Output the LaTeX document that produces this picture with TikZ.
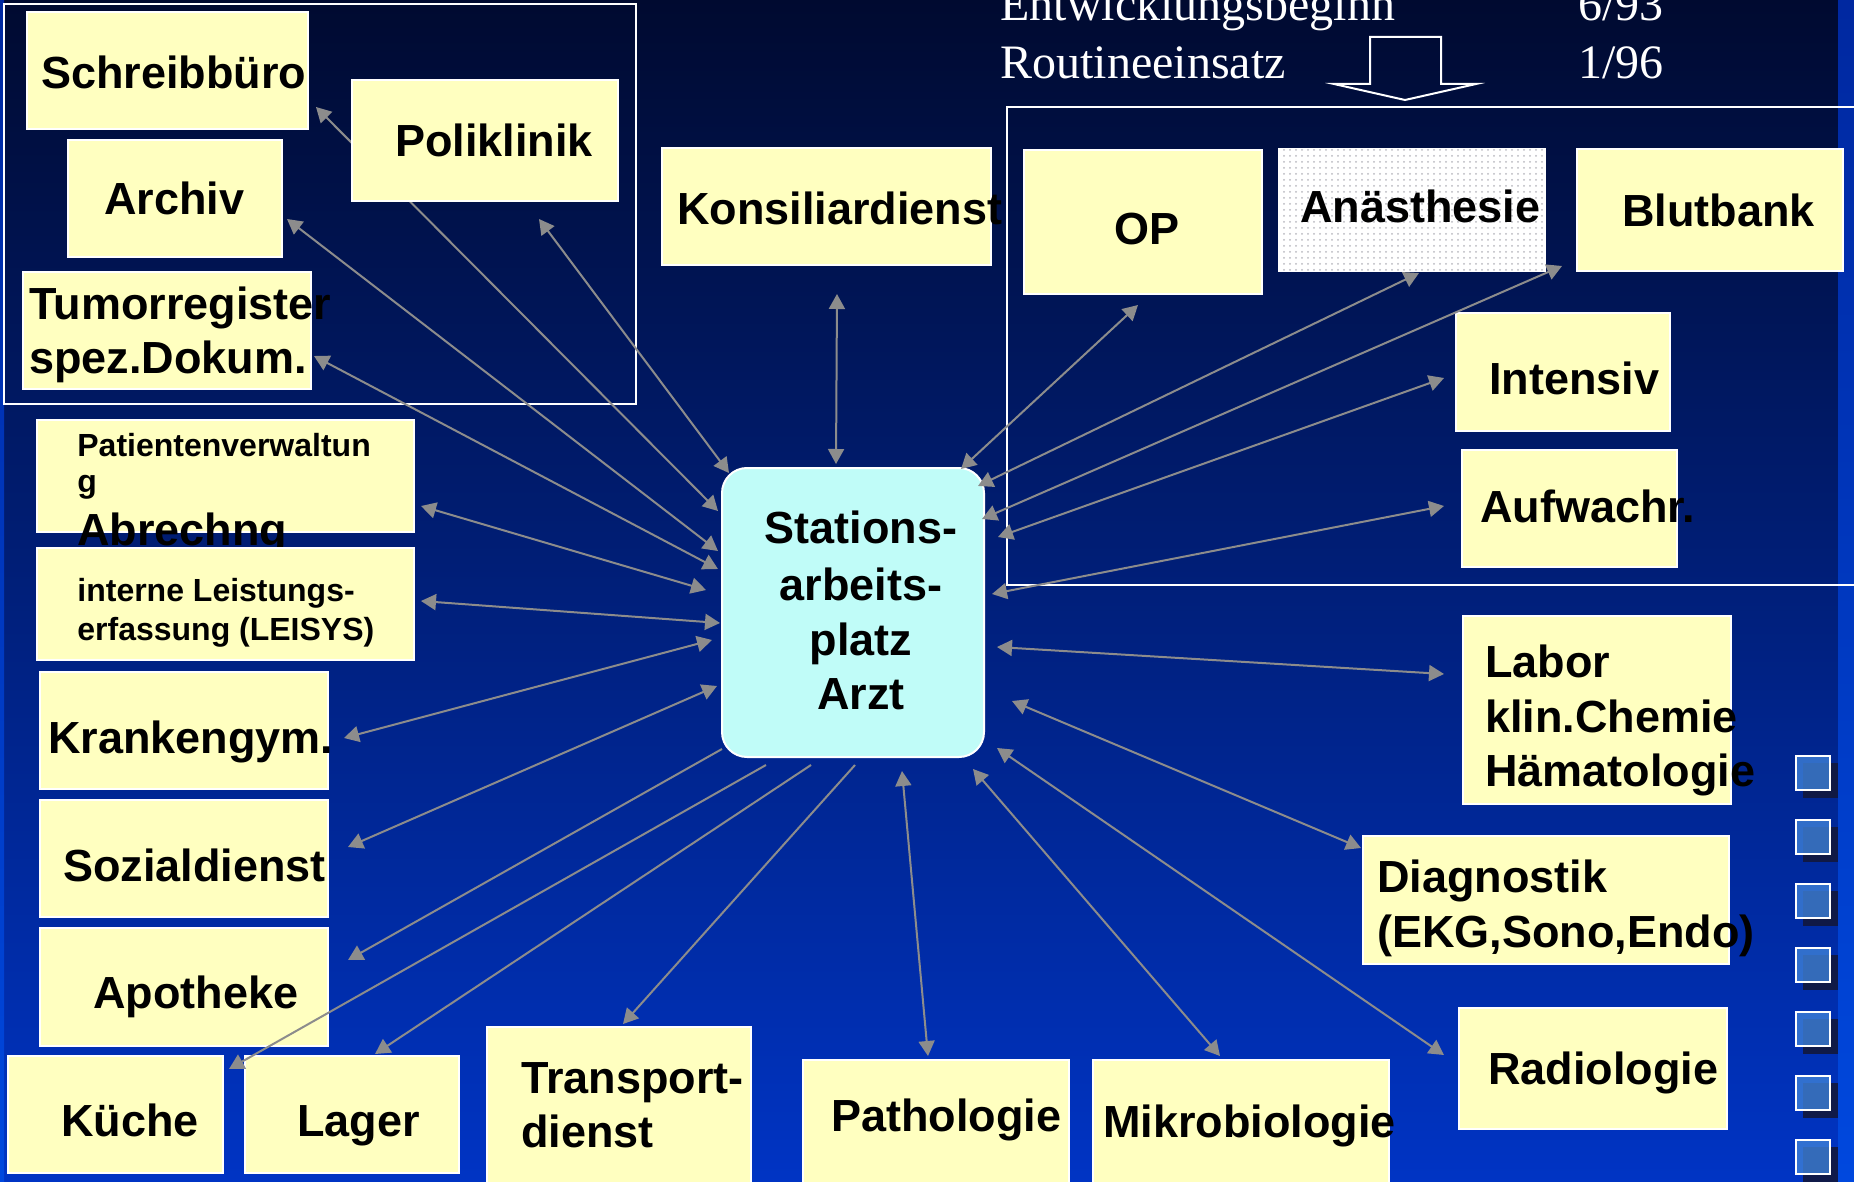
\documentclass[tikz,border=0pt]{standalone}
\usepackage{fontspec}
\setmainfont{Liberation Sans}
\newfontfamily\timesfont{Liberation Serif}
\usetikzlibrary{arrows.meta,calc,fit,patterns}

\definecolor{bgtop}{RGB}{0,10,48}
\definecolor{bgbottom}{RGB}{0,52,196}
\definecolor{striptop}{RGB}{0,40,160}
\definecolor{stripbottom}{RGB}{0,72,222}
\definecolor{boxyellow}{RGB}{255,255,192}
\definecolor{deskcyan}{RGB}{192,252,248}
\definecolor{linkgrey}{RGB}{140,140,140}
\definecolor{dotgrey}{RGB}{185,185,192}
\definecolor{bulletblue}{RGB}{62,128,214}
\definecolor{bulletshadow}{RGB}{18,24,60}

\tikzset{
  ybox/.style={fit={#1}, inner sep=0pt, draw=white, line width=1pt, fill=boxyellow},
  dotbox/.style={fit={#1}, inner sep=0pt, draw=white, line width=1pt, fill=white,
                 postaction={pattern=dots, pattern color=dotgrey}},
  big/.style={inner sep=0pt, anchor=base west, font=\fontsize{22.5}{27}\selectfont\bfseries},
  bigc/.style={big, anchor=base},
  small/.style={inner sep=0pt, anchor=base west, font=\fontsize{16}{19}\selectfont\bfseries},
  note/.style={inner sep=0pt, anchor=base west, text=white, font=\fontsize{24}{28}\selectfont\timesfont},
  link/.style={draw=linkgrey, line width=1pt},
  both/.style={link, {Triangle[length=7.5pt,width=8pt]}-{Triangle[length=7.5pt,width=8pt]}},
  one/.style={link, -{Triangle[length=7.5pt,width=8pt]}},
}

\begin{document}
\begin{tikzpicture}[x=0.5pt,y=-0.5pt]
\useasboundingbox (0,0) rectangle (1854,1182);
\clip (0,0) rectangle (1854,1182);

% slide background and edge strips
\shade[top color=bgtop, bottom color=bgbottom] (0,0) rectangle (1854,1182);
\shade[top color=striptop, bottom color=stripbottom] (0,0) rectangle (4,1182);
\shade[top color=striptop, bottom color=stripbottom] (1838,0) rectangle (1854,1182);

% group frames
\draw[white, line width=1pt] (4,4) rectangle (636,404);
\draw[white, line width=1pt] (1880,107) -- (1007,107) -- (1007,585) -- (1880,585);

% project dates
\node[note] (entw) at (1000,21) {Entwicklungsbeginn};
\node[note] (entw-d) at (1578,21) {6/93};
\node[note] (rout) at (1000,79) {Routineeinsatz};
\node[note] (rout-d) at (1578,79) {1/96};
\draw[white, line width=1pt] (1370,37) -- (1441,37) -- (1441,84) -- (1476,84)
  -- (1405,100) -- (1334,84) -- (1370,84) -- cycle;

% bullets with drop shadows
\foreach \k in {0,...,6} {
  \fill[bulletshadow, opacity=0.9] (1803,{763+64*\k}) rectangle (1838,{798+64*\k});
  \fill[bulletblue, fill opacity=0.8] (1796,{756+64*\k}) rectangle (1830,{790+64*\k});
  \draw[white, line width=0.9pt] (1796,{756+64*\k}) rectangle (1830,{790+64*\k});
}

% central workstation
\node[fit={(722,468)(984,757)}, inner sep=0pt, draw=white, line width=1pt,
      fill=deskcyan, rounded corners=12.5pt] (c) {};
\node[bigc] (c-t1) at (861,543) {Stations-};
\node[bigc] (c-t2) at (861,600) {arbeits-};
\node[bigc] (c-t3) at (861,655) {platz};
\node[bigc] (c-t4) at (861,709) {Arzt};

% Schreibbuero (its link runs beneath the Poliklinik box)
\node[ybox={(27,12)(308,129)}] (schreib) {};
\node[big] (schreib-t) at (41,89) {Schreibbüro};
\draw[both] ($(schreib.south east)+(7,-23)$) -- ($(c.north west)+(-3,44)$);

% upper left group
\node[ybox={(352,80)(618,201)}] (polikl) {};
\node[big] (polikl-t) at (395,157) {Poliklinik};
\node[ybox={(68,140)(282,257)}] (archiv) {};
\node[big] (archiv-t) at (104,215) {Archiv};
\node[ybox={(23,272)(311,389)}] (tumor) {};
\node[big] (tumor-t1) at (29,320) {Tumorregister};
\node[big] (tumor-t2) at (29,373) {spez.Dokum.};

% administration
\node[ybox={(37,420)(414,532)}] (patient) {};
\node[small] (patient-t1) at (77,456) {Patientenverwaltun};
\node[small] (patient-t2) at (77,492) {g};
\node[big] (patient-t3) at (77,545) {Abrechng};
\node[ybox={(37,548)(414,660)}] (leisys) {};
\node[small] (leisys-t1) at (77,601) {interne Leistungs-};
\node[small] (leisys-t2) at (77,640) {erfassung (LEISYS)};

% left column
\node[ybox={(40,672)(328,789)}] (kgym) {};
\node[big] (kgym-t) at (48,753) {Krankengym.};
\node[ybox={(40,800)(328,917)}] (sozial) {};
\node[big] (sozial-t) at (63,881) {Sozialdienst};
\node[ybox={(40,928)(328,1046)}] (apoth) {};
\node[big] (apoth-t) at (93,1008) {Apotheke};

% bottom row
\node[ybox={(8,1056)(223,1173)}] (kueche) {};
\node[big] (kueche-t) at (61,1136) {Küche};
\node[ybox={(245,1056)(459,1173)}] (lager) {};
\node[big] (lager-t) at (297,1136) {Lager};
\node[ybox={(487,1027)(751,1190)}] (transp) {};
\node[big] (transp-t1) at (521,1093) {Transport-};
\node[big] (transp-t2) at (521,1147) {dienst};
\node[ybox={(803,1060)(1069,1190)}] (patho) {};
\node[big] (patho-t) at (831,1131) {Pathologie};
\node[ybox={(1093,1060)(1389,1190)}] (mikro) {};
\node[big] (mikro-t) at (1103,1137) {Mikrobiologie};

% top middle
\node[ybox={(662,148)(991,265)}] (konsil) {};
\node[big] (konsil-t) at (677,225) {Konsiliardienst};

% operating area group
\node[ybox={(1024,150)(1262,294)}] (op) {};
\node[bigc] (op-t) at (1147,245) {OP};
\node[dotbox={(1279,149)(1545,271)}] (anaes) {};
\node[big] (anaes-t) at (1300,223) {Anästhesie};
\node[ybox={(1577,149)(1843,271)}] (blut) {};
\node[big] (blut-t) at (1622,227) {Blutbank};
\node[ybox={(1456,313)(1670,431)}] (intens) {};
\node[big] (intens-t) at (1489,394) {Intensiv};
\node[ybox={(1462,450)(1677,567)}] (aufw) {};
\node[big] (aufw-t) at (1480,522) {Aufwachr.};

% right column
\node[ybox={(1463,616)(1731,804)}] (labor) {};
\node[big] (labor-t1) at (1485,677) {Labor};
\node[big] (labor-t2) at (1485,732) {klin.Chemie};
\node[big] (labor-t3) at (1485,786) {Hämatologie};
\node[ybox={(1363,836)(1729,964)}] (diag) {};
\node[big] (diag-t1) at (1377,892) {Diagnostik};
\node[big] (diag-t2) at (1377,947) {(EKG,Sono,Endo)};
\node[ybox={(1459,1008)(1727,1129)}] (radio) {};
\node[big] (radio-t) at (1488,1084) {Radiologie};

% connectors to the workstation
\draw[both] ($(polikl.south)+(54,17)$) -- ($(c.north west)+(8,6)$);
\draw[both] ($(archiv.south east)+(4,-39)$) -- ($(c.north west)+(-3,84)$);
\draw[both] ($(tumor.south east)+(2,-34)$) -- ($(c.north west)+(-3,102)$);
\draw[both] ($(patient.east)+(6,30)$) -- ($(c.north west)+(-15,123)$);
\draw[both] ($(leisys.east)+(6,-3)$) -- ($(c.north west)+(-1,156)$);
\draw[both] ($(kgym.east)+(15,7.5)$) -- ($(c.north west)+(-9,173)$);
\draw[both] ($(sozial.east)+(19,-11.5)$) -- ($(c.north west)+(-4,219)$);
\draw[one] ($(c.south west)+(1,-9)$) -- ($(apoth.east)+(19,-27)$);
\draw[one] ($(c.south west)+(45,7)$) -- ($(kueche.north east)+(5,14)$);
\draw[one] ($(c.south west)+(90,7)$) -- ($(lager.north)+(23,-1)$);
\draw[one] ($(c.south west)+(134,7)$) -- ($(transp.north)+(4,-2)$);
\draw[both] ($(c.south west)+(181,13)$) -- ($(patho.north)+(-8,-3)$);
\draw[both] ($(c.south east)+(-12,11)$) -- ($(mikro.north)+(-21,-3)$);
\draw[both] ($(c.south east)+(12,-10)$) -- ($(radio.north west)+(-14,48)$);
\draw[both] ($(c.south east)+(27,-57)$) -- ($(diag.north west)+(-1,13)$);
\draw[both] ($(c.north east)+(12,180)$) -- ($(labor.west)+(-18,-36)$);
\draw[both] ($(c.north east)+(7,127)$) -- ($(aufw.west)+(-17,-2.5)$);
\draw[both] ($(c.north east)+(13,70)$) -- ($(intens.west)+(-11,6)$);
\draw[both] ($(c.north east)+(-3,52)$) -- ($(blut.south west)+(-14,-6)$);
\draw[both] ($(c.north east)+(-7,19)$) -- ($(anaes.south)+(7,1)$);
\draw[both] ($(c.north east)+(-24,2)$) -- ($(op.south)+(-5,10)$);
\draw[both] ($(konsil.south)+(10.5,28)$) -- ($(c.north west)+(115,-3)$);
\end{tikzpicture}
\end{document}
